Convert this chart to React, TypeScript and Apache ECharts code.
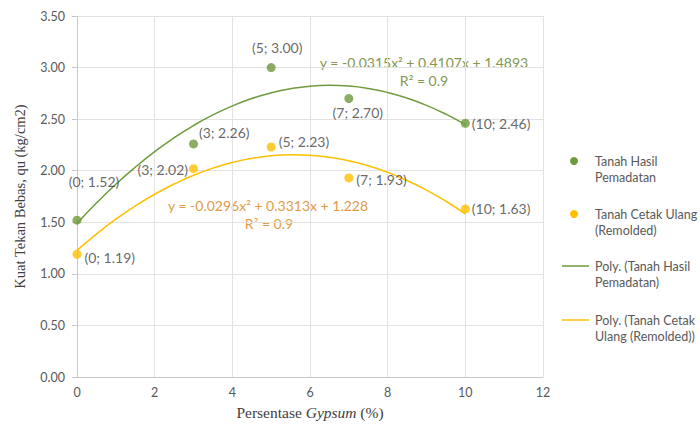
import React, { useEffect, useRef } from "react";
import * as echarts from "echarts";

const xPemadatan = [0, 3, 5, 7, 10];
const yPemadatan = [1.52, 2.26, 3.0, 2.7, 2.46];
const xRemolded = [0, 3, 5, 7, 10];
const yRemolded = [1.19, 2.02, 2.23, 1.93, 1.63];
// trendline points (polynomial order 2)
const trendX = [0, 0.5, 1, 1.5, 2, 2.5, 3, 3.5, 4, 4.5, 5, 5.5, 6, 6.5, 7, 7.5, 8, 8.5, 9, 9.5, 10];
const trendPemadatan = [1.489, 1.687, 1.869, 2.034, 2.185, 2.319, 2.438, 2.541, 2.628, 2.7, 2.755, 2.795, 2.82, 2.828, 2.821, 2.798, 2.759, 2.704, 2.634, 2.548, 2.446];
const trendRemolded = [1.228, 1.386, 1.53, 1.658, 1.772, 1.871, 1.956, 2.025, 2.08, 2.119, 2.145, 2.155, 2.15, 2.131, 2.097, 2.048, 1.984, 1.905, 1.812, 1.704, 1.581];

const labelPosP: any[] = [
  { position: "inside", offset: [17, -39] },
  { position: "right", distance: 1, offset: [0, -11] },
  { position: "inside", offset: [6, -20] },
  { position: "inside", offset: [9, 14] },
  { position: "right", distance: 2, offset: [0, 0] },
];
const labelPosR: any[] = [
  { position: "right", distance: 3, offset: [0, 3] },
  { position: "left", distance: 1, offset: [0, 1] },
  { position: "right", distance: 3, offset: [0, -5] },
  { position: "right", distance: 3, offset: [0, 2] },
  { position: "right", distance: 2, offset: [0, 0] },
];

const GREEN = "#6f9a3d";
const YELLOW = "#ffc000";
const TXT = "#404040";

function fmt(x: number, y: number) {
  return `(${x}; ${y.toFixed(2)})`;
}

export default function App() {
  const ref = useRef<HTMLDivElement>(null);
  useEffect(() => {
    const chart = echarts.init(ref.current!, null, { renderer: "svg" });
    const font = "Lato, 'Open Sans', sans-serif";
    const legendText = (x: number, y: number, t: string) => ({
      type: "text",
      x,
      y,
      style: { text: t, fill: "#595959", font: `12.5px ${font}`, textVerticalAlign: "middle" },
    });
    const eqText = (x: number, y: number, t: string, c: string) => ({
      type: "text",
      x,
      y,
      style: { text: t, fill: c, font: `14px ${font}`, textAlign: "center", textVerticalAlign: "middle" },
    });
    chart.setOption({
      animation: false,
      backgroundColor: "#fff",
      textStyle: { fontFamily: font },
      grid: { left: 77, right: 157, top: 16, bottom: 50 },
      xAxis: {
        type: "value",
        min: 0,
        max: 12,
        interval: 2,
        name: "{a|Persentase }{b|Gypsum}{a| (%)}",
        nameLocation: "middle",
        nameGap: 27,
        nameTextStyle: {
          rich: {
            a: { fontFamily: "'Liberation Serif', serif", fontSize: 15.5, color: "#404040" },
            b: { fontFamily: "'Liberation Serif', serif", fontSize: 15.5, color: "#404040", fontStyle: "italic" },
          },
        },
        axisLine: { show: true, lineStyle: { color: "#c8c8c8" } },
        axisTick: { show: false },
        axisLabel: { color: "#595959", fontSize: 12.5, margin: 9 },
        splitLine: { show: true, lineStyle: { color: "#e2e2e2" } },
      },
      yAxis: {
        type: "value",
        min: 0,
        max: 3.5,
        interval: 0.5,
        name: "Kuat Tekan Bebas, qu (kg/cm2)",
        nameLocation: "middle",
        nameGap: 50,
        nameTextStyle: { fontFamily: "'Liberation Serif', serif", fontSize: 14.5, color: "#404040" },
        axisLine: { show: true, lineStyle: { color: "#c8c8c8" } },
        axisTick: { show: true, length: 5, lineStyle: { color: "#c8c8c8" } },
        axisLabel: { color: "#595959", fontSize: 12.5, margin: 12, formatter: (v: number) => v.toFixed(2) },
        splitLine: { show: true, lineStyle: { color: "#e2e2e2" } },
      },
      series: [
        {
          name: "Poly. (Tanah Hasil Pemadatan)",
          type: "line",
          smooth: true,
          showSymbol: false,
          data: trendX.map((x, i) => [x, trendPemadatan[i]]),
          lineStyle: { color: GREEN, width: 1.5 },
          z: 1,
        },
        {
          name: "Poly. (Tanah Cetak Ulang (Remolded))",
          type: "line",
          smooth: true,
          showSymbol: false,
          data: trendX.map((x, i) => [x, trendRemolded[i]]),
          lineStyle: { color: YELLOW, width: 1.5 },
          z: 1,
        },
        {
          name: "Tanah Hasil Pemadatan",
          type: "scatter",
          symbolSize: 9,
          itemStyle: { color: GREEN },
          data: xPemadatan.map((x, i) => ({
            value: [x, yPemadatan[i]],
            label: { show: true, ...labelPosP[i], formatter: fmt(x, yPemadatan[i]), color: TXT, fontSize: 14, fontFamily: font },
          })),
          z: 3,
        },
        {
          name: "Tanah Cetak Ulang (Remolded)",
          type: "scatter",
          symbolSize: 9,
          itemStyle: { color: YELLOW },
          data: xRemolded.map((x, i) => ({
            value: [x, yRemolded[i]],
            label: { show: true, ...labelPosR[i], formatter: fmt(x, yRemolded[i]), color: TXT, fontSize: 14, fontFamily: font },
          })),
          z: 3,
        },
      ],
      graphic: [
        eqText(424, 62, "y = -0.0315x² + 0.4107x + 1.4893", "#84964f"),
        eqText(424, 80, "R² = 0.9", "#84964f"),
        eqText(268, 205, "y = -0.0296x² + 0.3313x + 1.228", "#e29b45"),
        eqText(269, 223, "R² = 0.9", "#e29b45"),
        { type: "circle", shape: { cx: 574, cy: 161, r: 4 }, style: { fill: GREEN } },
        legendText(595, 161, "Tanah Hasil"),
        legendText(595, 177, "Pemadatan"),
        { type: "circle", shape: { cx: 574, cy: 214, r: 4 }, style: { fill: YELLOW } },
        legendText(595, 214, "Tanah Cetak Ulang"),
        legendText(595, 230, "(Remolded)"),
        { type: "line", shape: { x1: 562, y1: 266, x2: 589, y2: 266 }, style: { stroke: GREEN, lineWidth: 1.5 } },
        legendText(595, 266, "Poly. (Tanah Hasil"),
        legendText(595, 282, "Pemadatan)"),
        { type: "line", shape: { x1: 562, y1: 320, x2: 589, y2: 320 }, style: { stroke: YELLOW, lineWidth: 1.5 } },
        legendText(595, 320, "Poly. (Tanah Cetak"),
        legendText(595, 336, "Ulang (Remolded))"),
      ],
    });
    return () => chart.dispose();
  }, []);
  return <div ref={ref} style={{ width: 700, height: 427, position: "absolute", left: 0, top: 0 }} />;
}
